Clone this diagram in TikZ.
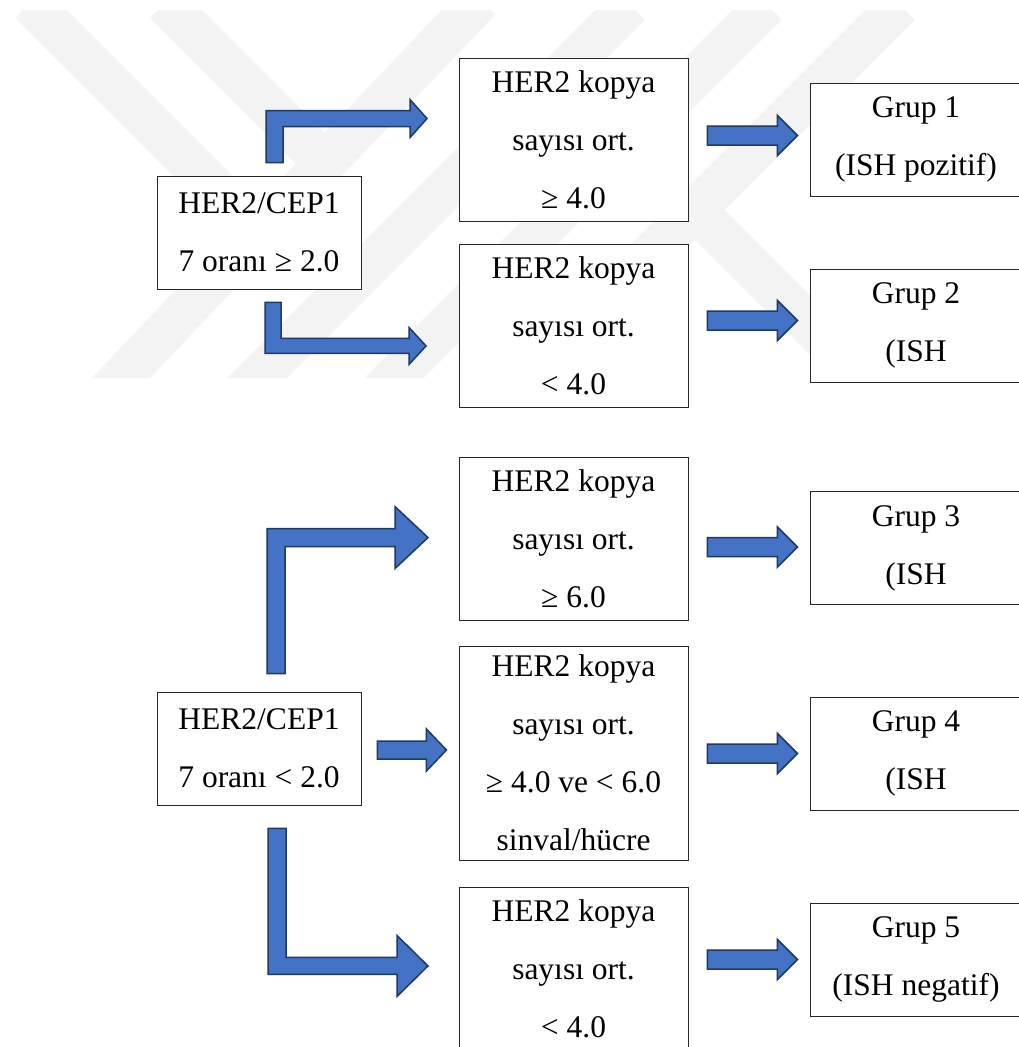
\documentclass[tikz,border=0pt]{standalone}
\usepackage{fontspec}
\setmainfont{Liberation Serif}
\usetikzlibrary{calc}
\definecolor{arrowfill}{HTML}{4472C4}
\definecolor{arrowline}{HTML}{1F3864}
\definecolor{wm}{RGB}{243,243,243}
\newcommand\mkblockarrow[1]{\draw[barrow] (#1) ++(0,-9.5) -- ++(70,0) -- ++(0,-10.5) -- ++(20,20) -- ++(-20,20) -- ++(0,-10.5) -- ++(-70,0) -- cycle;}
\begin{document}
\begin{tikzpicture}[x=1pt,y=-1pt,
  box/.style={draw=black!85, line width=0.9pt, fill=white, inner sep=0pt, align=center,
    font=\fontsize{31.5}{58}\selectfont},
  barrow/.style={fill=arrowfill, draw=arrowline, line width=1.5pt, line join=miter},
  wmband/.style={draw=wm, line width=42pt, line cap=butt}]
\useasboundingbox (0,0) rectangle (1019,1047);
% watermark
\begin{scope}
\clip (0,10) rectangle (1019,377);
\draw[wmband] (30,3) -- (258,231);
\draw[wmband] (165,3) -- (330,168);
\draw[wmband] (480,0) -- (100,400);
\draw[wmband] (630,5) -- (240,395);
\draw[wmband] (767,5) -- (377,395);
\draw[wmband] (900,5) -- (510,395);
\draw[wmband] (690,205) -- (870,385);
\end{scope}
% top section
\node[box, minimum width=204pt, minimum height=113pt] (a) at (259,232.5) {HER2/CEP1\\7 oranı ≥ 2.0};
\node[box, minimum width=229pt, minimum height=163pt] (b1) at (573.5,139.5) {HER2 kopya\\sayısı ort.\\≥ 4.0};
\node[box, minimum width=229pt, minimum height=163pt] (b2) at (573.5,325.5) {HER2 kopya\\sayısı ort.\\< 4.0};
\node[box, minimum width=212pt, minimum height=113pt] (g1) at (916,139.5) {Grup 1\\(ISH pozitif)};
\node[box, minimum width=212pt, minimum height=113pt] (g2) at (916,325.5) {Grup 2\\(ISH};
% bottom section
\node[box, minimum width=204pt, minimum height=113pt] (c) at (259,748.5) {HER2/CEP1\\7 oranı < 2.0};
\node[box, minimum width=229pt, minimum height=163pt] (b3) at (573.5,538.5) {HER2 kopya\\sayısı ort.\\≥ 6.0};
\node[box, minimum width=229pt, minimum height=214pt] (b4) at (573.5,753) {HER2 kopya\\sayısı ort.\\≥ 4.0 ve < 6.0\\sinval/hücre};
\node[box, minimum width=229pt, minimum height=163pt] (b5) at (573.5,968.5) {HER2 kopya\\sayısı ort.\\< 4.0};
\node[box, minimum width=212pt, minimum height=113pt] (g3) at (916,548) {Grup 3\\(ISH};
\node[box, minimum width=212pt, minimum height=113pt] (g4) at (916,753.5) {Grup 4\\(ISH};
\node[box, minimum width=212pt, minimum height=113pt] (g5) at (916,959.5) {Grup 5\\(ISH negatif)};
% straight block arrows
\coordinate (s1) at ($(b1.east |- g1.west)+(19,-4)$);
\coordinate (s2) at ($(b2.east |- g2.west)+(19,-5)$);
\coordinate (s3) at ($(b3.east |- g3.west)+(19,-1)$);
\coordinate (s4) at ($(b4.east |- g4.west)+(19,0)$);
\coordinate (s5) at ($(b5.east |- g5.west)+(19,0)$);
\mkblockarrow{s1}
\mkblockarrow{s2}
\mkblockarrow{s3}
\mkblockarrow{s4}
\mkblockarrow{s5}
% bent arrows, top section
\coordinate (u1) at ($(a.north)+(7,-13)$);
\draw[barrow] (u1) -- ++(0,-52) -- ++(144,0) -- ++(0,-11) -- ++(17,19) -- ++(-17,19) -- ++(0,-11) -- ++(-127,0) -- ++(0,36) -- cycle;
\coordinate (d1) at ($(a.south)+(6,13)$);
\draw[barrow] (d1) -- ++(0,51) -- ++(144,0) -- ++(0,11) -- ++(17,-18.5) -- ++(-17,-18.5) -- ++(0,11) -- ++(-128,0) -- ++(0,-36) -- cycle;
% bent arrows, bottom section
\coordinate (u2) at ($(c.north)+(8,-18)$);
\draw[barrow] (u2) -- ++(0,-145) -- ++(128,0) -- ++(0,-22) -- ++(33,31) -- ++(-33,31) -- ++(0,-22) -- ++(-110,0) -- ++(0,127) -- cycle;
\coordinate (d2) at ($(c.south)+(9,23)$);
\draw[barrow] (d2) -- ++(0,146) -- ++(129,0) -- ++(0,22) -- ++(31,-30.5) -- ++(-31,-30.5) -- ++(0,22) -- ++(-111,0) -- ++(0,-129) -- cycle;
\coordinate (r2) at ($(c.east)+(16,1.5)$);
\draw[barrow] (r2) ++(0,-9) -- ++(49,0) -- ++(0,-12) -- ++(20,21) -- ++(-20,21) -- ++(0,-12) -- ++(-49,0) -- cycle;
\end{tikzpicture}
\end{document}
